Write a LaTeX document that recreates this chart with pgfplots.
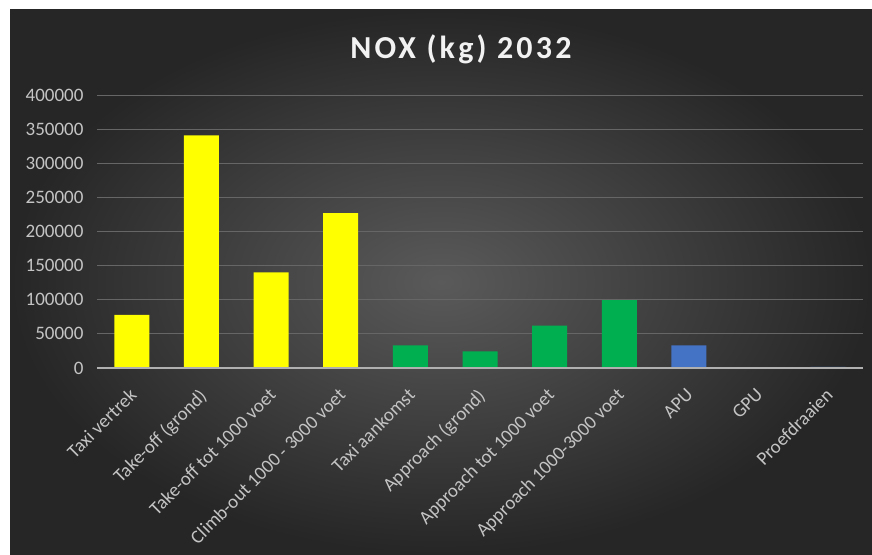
\documentclass[border=0pt]{standalone}
\usepackage{pgfplots}
\pgfplotsset{compat=1.18}
\usepackage{fontspec}
\setmainfont{Carlito}
\definecolor{bgin}{HTML}{5A5A5A}
\definecolor{bgout}{HTML}{262626}
\definecolor{gridc}{HTML}{666666}
\definecolor{axisc}{HTML}{B0B0B0}
\definecolor{labc}{HTML}{C4C4C4}
\definecolor{titlec}{HTML}{F2F2F2}
\definecolor{ybar}{HTML}{FFFF00}
\definecolor{gbar}{HTML}{00B050}
\definecolor{bbar}{HTML}{4472C4}
\begin{document}
\begin{tikzpicture}[x=1pt,y=1pt]
\fill[white] (0,0) rectangle (872,554);
\shade[inner color=bgin, outer color=bgout] (10,0) rectangle (872,544);
\node[text=titlec, font=\fontsize{32}{36}\selectfont\bfseries\addfontfeature{LetterSpace=10}] at (461,505) {NOX (kg) 2032};
\begin{axis}[
  at={(97pt,186pt)}, anchor=south west,
  scale only axis, width=766pt, height=273pt,
  xmin=-0.5, xmax=10.5, ymin=0, ymax=400000,
  ytick={0,50000,100000,150000,200000,250000,300000,350000,400000},
  scaled y ticks=false,
  /pgf/number format/.cd, fixed, 1000 sep={}, assume math mode=true,
  /pgfplots/.cd,
  ymajorgrids, grid style={gridc, line width=0.8pt},
  axis line style={draw=none},
  major tick length=0pt,
  yticklabel style={font=\fontsize{19}{21}\selectfont, text=labc, xshift=-10pt},
  xtick={0,1,2,3,4,5,6,7,8,9,10},
  xticklabels={Taxi vertrek, Take-off (grond), Take-off tot 1000 voet, Climb-out 1000 - 3000 voet, Taxi aankomst, Approach (grond), Approach tot 1000 voet, Approach 1000-3000 voet, APU, GPU, Proefdraaien},
  xticklabel style={rotate=45, anchor=north east, font=\fontsize{19}{22}\selectfont, text=labc, yshift=-7.5pt, xshift=-12.5pt},
  ybar, bar width=35pt, bar shift=0pt,
  clip=false,
]
\addplot[fill=ybar, draw=none] coordinates {(0,78000) (1,341000) (2,140000) (3,227000)};
\addplot[fill=gbar, draw=none] coordinates {(4,33000) (5,24500) (6,62000) (7,99500)};
\addplot[fill=bbar, draw=none] coordinates {(8,33000) (9,0) (10,1500)};
\draw[axisc, line width=1.5pt] (axis cs:-0.5,0) -- (axis cs:10.5,0);
\end{axis}
\end{tikzpicture}
\end{document}
